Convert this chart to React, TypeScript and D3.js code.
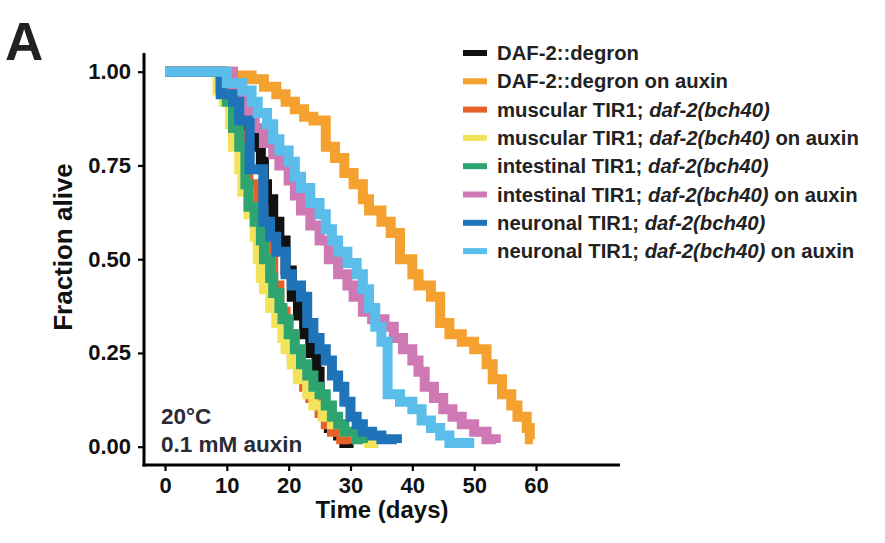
import React, { useRef, useEffect } from 'react';
import * as d3 from 'd3';

type Pt = [number, number];

// survival curves, [day, fraction alive]
const daf2Degron: Pt[] = [[0,1],[9.5,0.97],[11,0.93],[12,0.88],[13.5,0.84],[14.5,0.80],[15.5,0.76],[16,0.70],[16.5,0.66],[17.5,0.60],[18.5,0.55],[19.5,0.47],[20.5,0.40],[21.5,0.35],[22.5,0.30],[23.5,0.25],[24.5,0.20],[25,0.12],[25.5,0.09],[26.5,0.05],[28,0.03],[29,0.01],[30.5,0.01]];
const daf2DegronAux: Pt[] = [[0,1],[11,0.99],[14,0.98],[16,0.96],[18,0.94],[19.5,0.92],[21,0.90],[22.5,0.88],[24,0.87],[26,0.80],[27.5,0.77],[29,0.73],[30.5,0.70],[32,0.66],[33,0.63],[35,0.60],[36.5,0.57],[38,0.50],[40,0.46],[41,0.43],[43,0.40],[44.5,0.33],[46,0.30],[48,0.28],[50,0.26],[52,0.22],[53,0.18],[54.5,0.14],[56,0.11],[57,0.08],[58.5,0.05],[59,0.02],[59.5,0.02]];
const muscular: Pt[] = [[0,1],[9,0.97],[10,0.93],[11,0.88],[12,0.83],[13,0.77],[13.5,0.70],[14.5,0.64],[15.5,0.57],[16.5,0.50],[17.5,0.43],[18.5,0.36],[19.5,0.30],[20.5,0.24],[21.5,0.19],[22.5,0.16],[23.5,0.13],[25,0.09],[26,0.06],[27,0.04],[28.5,0.02],[30,0.01]];
const muscularAux: Pt[] = [[0,1],[8.5,0.95],[9.5,0.92],[10.5,0.86],[11,0.80],[12,0.74],[12.5,0.68],[13.5,0.62],[14.5,0.56],[15,0.50],[15.5,0.45],[16,0.42],[17,0.37],[18,0.33],[19,0.29],[19.5,0.26],[20.5,0.22],[21.5,0.18],[23,0.14],[24,0.11],[25.5,0.08],[27,0.06],[29,0.04],[31,0.02],[33,0.01],[34.5,0.01]];
const intestinal: Pt[] = [[0,1],[9,0.96],[10,0.92],[11,0.85],[12,0.80],[13,0.70],[13.5,0.64],[14.5,0.60],[15.5,0.55],[16,0.50],[17,0.45],[17.5,0.41],[18.5,0.37],[19,0.34],[20,0.30],[21,0.26],[22,0.22],[23,0.19],[24,0.16],[25,0.14],[26,0.11],[27,0.08],[28,0.06],[29,0.04],[31,0.02],[32,0.01]];
const intestinalAux: Pt[] = [[0,1],[11,0.95],[12.5,0.92],[13.5,0.88],[14.5,0.85],[16,0.81],[17.5,0.78],[18.5,0.75],[20,0.71],[21,0.67],[22,0.63],[23.5,0.59],[25,0.55],[26.5,0.50],[28,0.46],[29.5,0.43],[30.5,0.40],[32,0.36],[33.5,0.34],[35.5,0.32],[37,0.29],[38.5,0.26],[40,0.23],[41,0.20],[42,0.16],[43.5,0.13],[45,0.10],[46.5,0.08],[48,0.06],[50,0.04],[52,0.02],[53.5,0.01]];
const neuronal: Pt[] = [[0,1],[9,0.94],[11,0.92],[12,0.87],[13.7,0.74],[15.9,0.60],[17,0.56],[18,0.52],[19.5,0.46],[20.5,0.43],[22,0.40],[23,0.33],[24,0.29],[25,0.26],[26,0.23],[27,0.19],[28,0.16],[29,0.12],[30,0.08],[31,0.06],[32,0.04],[33.5,0.03],[35,0.02],[37.5,0.01]];
const neuronalAux: Pt[] = [[0,1],[10,0.97],[12.5,0.95],[14,0.92],[15,0.89],[16.5,0.86],[17.5,0.82],[18.5,0.79],[20,0.76],[21,0.72],[22,0.69],[23.5,0.65],[25,0.62],[26,0.58],[27,0.55],[28,0.52],[29.5,0.49],[31,0.46],[32,0.42],[33,0.37],[34,0.32],[35,0.28],[36,0.14],[38,0.12],[40,0.10],[41.5,0.07],[43,0.05],[44.5,0.03],[46,0.01],[50,0.01]];

const seriesData = [daf2Degron, daf2DegronAux, muscular, muscularAux, intestinal, intestinalAux, neuronal, neuronalAux];
const seriesColors = ['#111111', '#F4A12F', '#E4612A', '#F2E35B', '#2EA571', '#CE79B3', '#1F74B9', '#5BBDE9'];
// legend label: [plain prefix, italic part, plain suffix]
const legendLabels: [string, string, string][] = [
  ['DAF-2::degron', '', ''],
  ['DAF-2::degron on auxin', '', ''],
  ['muscular TIR1; ', 'daf-2(bch40)', ''],
  ['muscular TIR1; ', 'daf-2(bch40)', ' on auxin'],
  ['intestinal TIR1; ', 'daf-2(bch40)', ''],
  ['intestinal TIR1; ', 'daf-2(bch40)', ' on auxin'],
  ['neuronal TIR1; ', 'daf-2(bch40)', ''],
  ['neuronal TIR1; ', 'daf-2(bch40)', ' on auxin'],
];
const xTicks = [0, 10, 20, 30, 40, 50, 60];
const yTicks = [0, 0.25, 0.5, 0.75, 1];

const FONT = '"Liberation Sans", Arial, Helvetica, sans-serif';

const SurvivalChart: React.FC = () => {
  const svgRef = useRef<SVGSVGElement | null>(null);

  useEffect(() => {
    if (!svgRef.current) return;
    const svg = d3.select(svgRef.current);
    svg.selectAll('*').remove();

    const x = d3.scaleLinear().domain([0, 60]).range([165, 536]);
    const y = d3.scaleLinear().domain([0, 1]).range([446.7, 71.7]);
    const axisX = 144;
    const axisY = 465;

    const line = d3.line<Pt>()
      .x(d => x(d[0]))
      .y(d => y(d[1]))
      .curve(d3.curveStepAfter);

    // curves
    svg.append('g')
      .selectAll('path')
      .data(seriesData)
      .join('path')
      .attr('d', d => line(d))
      .attr('fill', 'none')
      .attr('stroke', (_, i) => seriesColors[i])
      .attr('stroke-width', 10);

    // axes
    const xAxis = svg.append('g')
      .attr('transform', `translate(0,${axisY})`)
      .call(d3.axisBottom(x).tickValues(xTicks).tickSize(6).tickSizeOuter(0).tickPadding(6));
    xAxis.select('.domain').remove();
    xAxis.append('line')
      .attr('x1', axisX - 1.5).attr('x2', 620)
      .attr('stroke', '#000').attr('stroke-width', 3);

    const yAxis = svg.append('g')
      .attr('transform', `translate(${axisX},0)`)
      .call(d3.axisLeft(y).tickValues(yTicks).tickFormat(d3.format('.2f')).tickSize(6).tickSizeOuter(0).tickPadding(7));
    yAxis.select('.domain').remove();
    yAxis.append('line')
      .attr('y1', 53).attr('y2', axisY + 1.5)
      .attr('stroke', '#000').attr('stroke-width', 3);

    svg.selectAll('.tick line').attr('stroke', '#000').attr('stroke-width', 2.2);
    svg.selectAll('.tick text')
      .attr('fill', '#111')
      .style('font-family', FONT)
      .style('font-weight', 'bold')
      .style('font-size', '22px');

    // axis titles
    svg.append('text')
      .attr('x', 382).attr('y', 518)
      .attr('text-anchor', 'middle')
      .style('font-family', FONT).style('font-weight', 'bold').style('font-size', '24px')
      .attr('fill', '#111')
      .text('Time (days)');
    svg.append('text')
      .attr('transform', `translate(72,247) rotate(-90)`)
      .attr('text-anchor', 'middle')
      .style('font-family', FONT).style('font-weight', 'bold').style('font-size', '26px')
      .attr('fill', '#111')
      .text('Fraction alive');

    // panel letter
    svg.append('text')
      .attr('x', 5).attr('y', 60)
      .style('font-family', FONT).style('font-weight', 'bold').style('font-size', '53px')
      .attr('fill', '#222')
      .text('A');

    // condition notes
    const notes = svg.append('g')
      .style('font-family', FONT).style('font-weight', 'bold').style('font-size', '22.5px')
      .attr('fill', '#2b2b38');
    notes.append('text').attr('x', 161).attr('y', 424).text('20°C');
    notes.append('text').attr('x', 161).attr('y', 452).text('0.1 mM auxin');

    // legend
    const legend = svg.append('g').attr('transform', 'translate(463,53)');
    legendLabels.forEach((lab, i) => {
      const row = legend.append('g').attr('transform', `translate(0,${i * 28.3})`);
      row.append('rect')
        .attr('x', 0).attr('y', -3).attr('width', 24).attr('height', 6)
        .attr('fill', seriesColors[i]);
      const t = row.append('text')
        .attr('x', 34).attr('y', 7)
        .style('font-family', FONT).style('font-weight', 'bold').style('font-size', '20.3px')
        .attr('fill', '#222');
      t.append('tspan').text(lab[0]);
      if (lab[1]) t.append('tspan').style('font-style', 'italic').text(lab[1]);
      if (lab[2]) t.append('tspan').text(lab[2]);
    });
  }, []);

  return (
    <svg
      ref={svgRef}
      width={885}
      height={543}
      style={{ position: 'absolute', left: 0, top: 0, background: '#fff' }}
    />
  );
};

export default function App() {
  return <SurvivalChart />;
}
